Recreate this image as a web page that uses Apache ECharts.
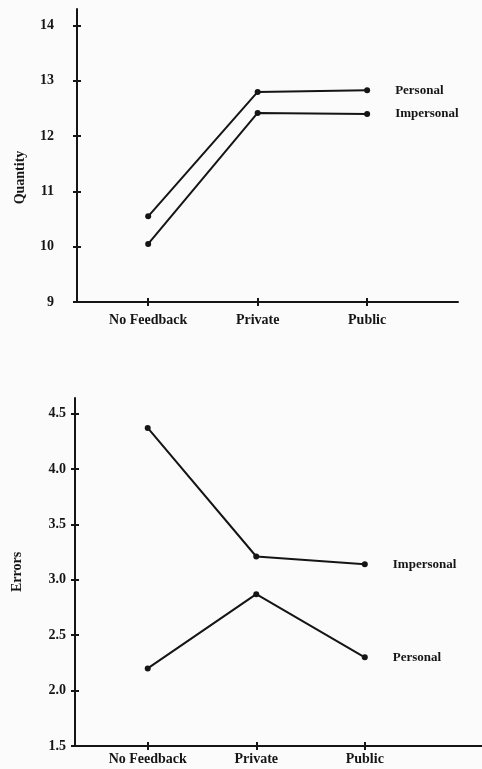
<!DOCTYPE html>
<html>
<head>
<meta charset="utf-8">
<script src="https://cdn.jsdelivr.net/npm/echarts@6/dist/echarts.min.js"></script>
<style>
  html, body { margin: 0; padding: 0; background: #fbfbfb; }
  #chart { width: 482px; height: 769px; }
</style>
</head>
<body>
<div id="chart"></div>
<script>
var categories = ['No Feedback', 'Private', 'Public']
var quantityPersonal = [10.55, 12.8, 12.83]
var quantityImpersonal = [10.05, 12.42, 12.4]
var errorsImpersonal = [4.37, 3.21, 3.14]
var errorsPersonal = [2.2, 2.87, 2.3]
var quantityTicks = [9, 10, 11, 12, 13, 14]
var errorTicks = [1.5, 2.0, 2.5, 3.0, 3.5, 4.0, 4.5]
var categoryTicks = [0, 1, 2]

var ink = '#151515'
var font = 'Liberation Serif'

function points(values) {
  return categories.map(function (c, i) { return [i, values[i]] })
}

function xAxes(gridIndex, min, max, margin) {
  return [{
    type: 'value', gridIndex: gridIndex, min: min, max: max, position: 'bottom',
    axisLine: { onZero: false, lineStyle: { color: ink, width: 2 } },
    axisTick: { customValues: categoryTicks, length: 4, lineStyle: { color: ink, width: 2 } },
    axisLabel: {
      customValues: categoryTicks, margin: margin,
      color: ink, fontFamily: font, fontWeight: 'bold', fontSize: 14,
      formatter: function (v) { return categories[Math.round(v)] }
    },
    splitLine: { show: false }
  }, {
    // second copy only for the tick half above the line
    type: 'value', gridIndex: gridIndex, min: min, max: max, position: 'bottom',
    axisLine: { show: false, onZero: false },
    axisTick: { customValues: categoryTicks, inside: true, length: 4, lineStyle: { color: ink, width: 2 } },
    axisLabel: { show: false },
    splitLine: { show: false }
  }]
}

function yAxes(gridIndex, min, max, ticks, name, margin, nameGap, namePad, digits) {
  return [{
    type: 'value', gridIndex: gridIndex, min: min, max: max, position: 'left',
    name: name, nameLocation: 'middle', nameGap: nameGap, nameRotate: 90,
    nameTextStyle: { color: ink, fontFamily: font, fontWeight: 'bold', fontSize: 14, padding: namePad },
    axisLine: { show: true, onZero: false, lineStyle: { color: ink, width: 2 } },
    axisTick: { show: true, customValues: ticks, length: 4, lineStyle: { color: ink, width: 2 } },
    axisLabel: {
      customValues: ticks, margin: margin,
      color: ink, fontFamily: font, fontWeight: 'bold', fontSize: 14,
      formatter: function (v) { return v.toFixed(digits) }
    },
    splitLine: { show: false }
  }, {
    type: 'value', gridIndex: gridIndex, min: min, max: max, position: 'left',
    axisLine: { show: false, onZero: false },
    axisTick: { show: true, customValues: ticks, inside: true, length: 4, lineStyle: { color: ink, width: 2 } },
    axisLabel: { show: false },
    splitLine: { show: false }
  }]
}

function line(name, values, xi, yi) {
  return {
    name: name, type: 'line', xAxisIndex: xi, yAxisIndex: yi,
    data: points(values),
    symbol: 'circle', symbolSize: 6,
    itemStyle: { color: ink },
    lineStyle: { color: ink, width: 2 },
    endLabel: {
      show: true, formatter: '{a}', distance: 28,
      color: ink, fontFamily: font, fontWeight: 'bold', fontSize: 13
    },
    animation: false
  }
}

var chart = echarts.init(document.getElementById('chart'))
chart.setOption({
  backgroundColor: '#fbfbfb',
  animation: false,
  grid: [
    { left: 77, right: 24, top: 9, bottom: 467 },
    { left: 75, right: 0, top: 398, bottom: 23 }
  ],
  xAxis: xAxes(0, -0.65, 2.83, 11).concat(xAxes(1, -0.67, 3.08, 6)),
  yAxis: yAxes(0, 9, 14.3, quantityTicks, 'Quantity', 23, 50, [0, 44, 0, 0], 0)
    .concat(yAxes(1, 1.5, 4.64, errorTicks, 'Errors', 9, 51, 0, 1)),
  series: [
    line('Personal', quantityPersonal, 0, 0),
    line('Impersonal', quantityImpersonal, 0, 0),
    line('Impersonal', errorsImpersonal, 2, 2),
    line('Personal', errorsPersonal, 2, 2)
  ]
})
</script>
</body>
</html>
